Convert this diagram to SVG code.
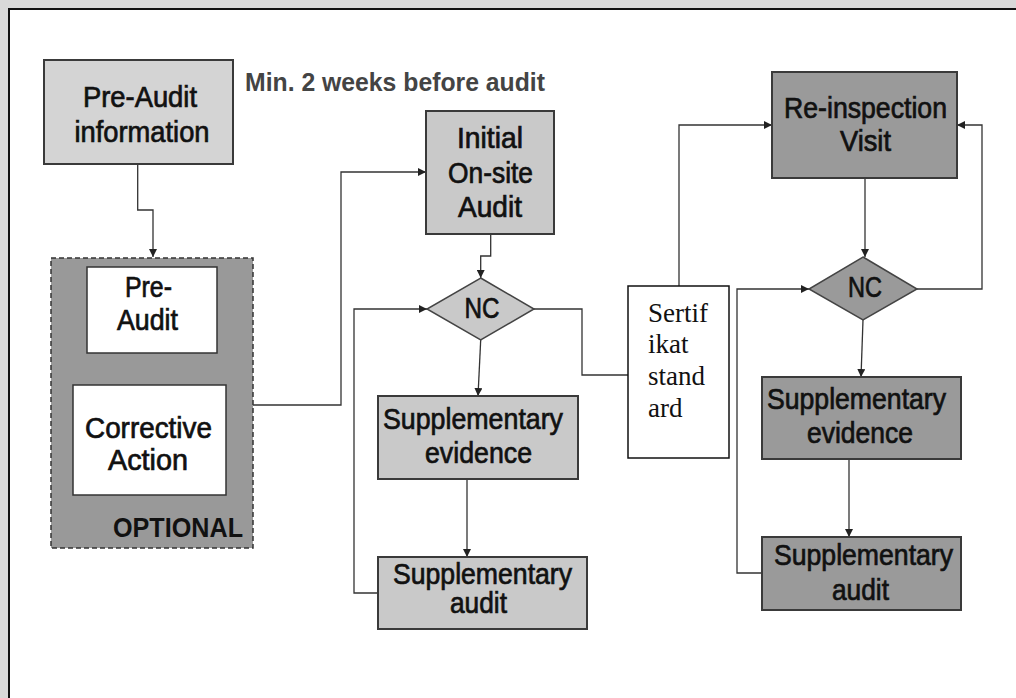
<svg xmlns="http://www.w3.org/2000/svg" width="1016" height="698" viewBox="0 0 1016 698">
<defs>
<marker id="arr" viewBox="0 0 10 10" refX="10" refY="5" markerWidth="8" markerHeight="8" markerUnits="userSpaceOnUse" orient="auto">
<path d="M0,0 L10,5 L0,10 z" fill="#222"/>
</marker>
</defs>
<style>
.box{stroke:#3a3a3a;stroke-width:2}
.light{fill:#d4d4d4}
.mid{fill:#c9c9c9}
.dark{fill:#9a9a9a}
.white{fill:#ffffff}
.t{font-family:"Liberation Sans",Arial,sans-serif;font-size:29px;fill:#111;stroke:#111;stroke-width:0.7;text-anchor:middle}
.s{font-family:"Liberation Serif","Times New Roman",serif;font-size:27px;fill:#111}
.c{fill:none;stroke:#333;stroke-width:1.3}
.ca{fill:none;stroke:#333;stroke-width:1.3;marker-end:url(#arr)}
</style>
<rect x="0" y="0" width="1016" height="698" fill="#d9d9d9"/>
<rect x="9" y="9" width="1020" height="700" fill="#ffffff" stroke="#111" stroke-width="2"/>

<g id="connectors">
<path class="ca" d="M137.7,165 V210 H153 V257"/>
<path class="ca" d="M151,353 V385"/>
<path class="ca" d="M253,405 H341 V172 H426"/>
<path class="ca" d="M490.7,234 V256 H480.7 V278"/>
<path class="ca" d="M480.7,340 L478,396"/>
<path class="ca" d="M467,479 V557"/>
<path class="ca" d="M378,593 H354 V309 H427"/>
<path class="c" d="M534,309 H582 V375 H628"/>
<path class="ca" d="M679,286 V125 H772"/>
<path class="ca" d="M865,178 V257"/>
<path class="ca" d="M917,289 H982 V125 H957"/>
<path class="ca" d="M863,320 L861,377"/>
<path class="ca" d="M849,459 V537"/>
<path class="ca" d="M762,573 H737 V289 H809"/>
</g>

<text x="245" y="91" font-family="Liberation Sans,Arial,sans-serif" font-size="26" font-weight="bold" fill="#444" textLength="300" lengthAdjust="spacingAndGlyphs">Min. 2 weeks before audit</text>

<g id="pre-audit-info">
<rect class="box light" x="44" y="60" width="189" height="104"/>
<text class="t" x="140" y="107" textLength="114" lengthAdjust="spacingAndGlyphs">Pre-Audit</text>
<text class="t" x="142" y="142" textLength="135" lengthAdjust="spacingAndGlyphs">information</text>
</g>

<g id="optional">
<rect x="51" y="258" width="202" height="290" fill="#999999" stroke="#333" stroke-width="1.5" stroke-dasharray="5,3"/>
<text x="243" y="537" font-family="Liberation Sans,Arial,sans-serif" font-size="27" font-weight="bold" fill="#111" text-anchor="end" textLength="130" lengthAdjust="spacingAndGlyphs">OPTIONAL</text>
</g>

<g id="pre-audit">
<rect class="white" x="87" y="267" width="130" height="86" stroke="#333" stroke-width="1.5"/>
<text class="t" x="148.5" y="297" textLength="47" lengthAdjust="spacingAndGlyphs">Pre-</text>
<text class="t" x="147.5" y="330" textLength="61" lengthAdjust="spacingAndGlyphs">Audit</text>
</g>

<g id="corrective-action">
<rect class="white" x="73" y="385" width="153" height="110" stroke="#333" stroke-width="1.5"/>
<text class="t" x="148.5" y="438" textLength="127" lengthAdjust="spacingAndGlyphs">Corrective</text>
<text class="t" x="148" y="470" textLength="80" lengthAdjust="spacingAndGlyphs">Action</text>
</g>

<g id="initial-audit">
<rect class="box mid" x="426" y="111" width="128" height="123"/>
<text class="t" x="490" y="148" textLength="66" lengthAdjust="spacingAndGlyphs">Initial</text>
<text class="t" x="490.5" y="183" textLength="85" lengthAdjust="spacingAndGlyphs">On-site</text>
<text class="t" x="490" y="217" textLength="64" lengthAdjust="spacingAndGlyphs">Audit</text>
</g>

<g id="nc1">
<polygon class="mid" points="480.7,278 534,309 480.7,340 427,309" stroke="#444" stroke-width="1.5"/>
<text class="t" x="482" y="318" textLength="35" lengthAdjust="spacingAndGlyphs">NC</text>
</g>

<g id="supp-evidence-1">
<rect class="box mid" x="378" y="396" width="200" height="83"/>
<text class="t" x="473" y="429" textLength="180" lengthAdjust="spacingAndGlyphs">Supplementary</text>
<text class="t" x="478.5" y="463" textLength="107" lengthAdjust="spacingAndGlyphs">evidence</text>
</g>

<g id="supp-audit-1">
<rect class="box mid" x="378" y="557" width="209" height="72"/>
<text class="t" x="482.5" y="584" textLength="179" lengthAdjust="spacingAndGlyphs">Supplementary</text>
<text class="t" x="478.5" y="613" textLength="57" lengthAdjust="spacingAndGlyphs">audit</text>
</g>

<g id="sertifikat">
<rect x="628" y="286" width="101" height="172" fill="#ffffff" stroke="#111" stroke-width="1.5"/>
<text class="s" x="648" y="322">Sertif</text>
<text class="s" x="648" y="353">ikat</text>
<text class="s" x="648" y="385">stand</text>
<text class="s" x="648" y="417">ard</text>
</g>

<g id="reinspection">
<rect class="box dark" x="772" y="72" width="185" height="106"/>
<text class="t" x="865.5" y="118" textLength="163" lengthAdjust="spacingAndGlyphs">Re-inspection</text>
<text class="t" x="865.5" y="151" textLength="51" lengthAdjust="spacingAndGlyphs">Visit</text>
</g>

<g id="nc2">
<polygon class="dark" points="863,257 917,289 863,320 809,289" stroke="#444" stroke-width="1.5"/>
<text class="t" x="865" y="297" textLength="34" lengthAdjust="spacingAndGlyphs">NC</text>
</g>

<g id="supp-evidence-2">
<rect class="box dark" x="762" y="377" width="199" height="82"/>
<text class="t" x="856.5" y="409" textLength="179" lengthAdjust="spacingAndGlyphs">Supplementary</text>
<text class="t" x="860" y="443" textLength="106" lengthAdjust="spacingAndGlyphs">evidence</text>
</g>

<g id="supp-audit-2">
<rect class="box dark" x="762" y="537" width="199" height="73"/>
<text class="t" x="863.5" y="565" textLength="179" lengthAdjust="spacingAndGlyphs">Supplementary</text>
<text class="t" x="860.5" y="600" textLength="57" lengthAdjust="spacingAndGlyphs">audit</text>
</g>
</svg>
